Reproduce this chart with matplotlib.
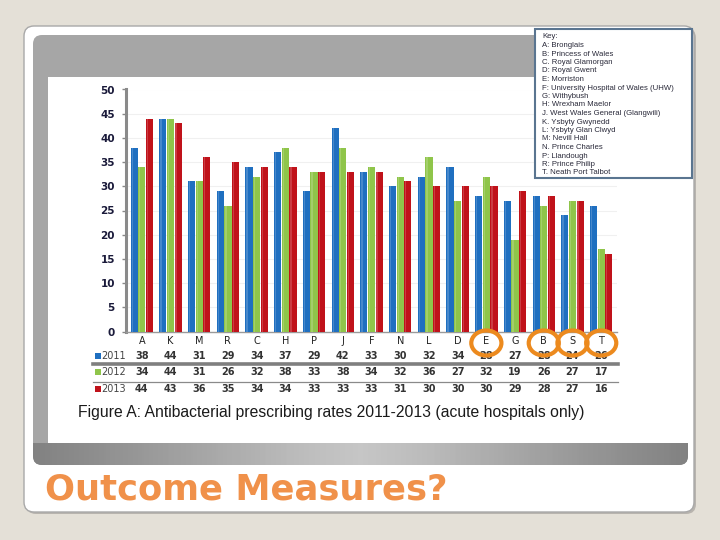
import numpy as np
import matplotlib
matplotlib.use("Agg")
import matplotlib.pyplot as plt
from matplotlib.patches import FancyBboxPatch, Rectangle, Ellipse
import matplotlib.transforms as mtransforms

# data
hospitals = ["A", "K", "M", "R", "C", "H", "P", "J", "F", "N", "L", "D", "E", "G", "B", "S", "T"]
rate_2011 = [38, 44, 31, 29, 34, 37, 29, 42, 33, 30, 32, 34, 28, 27, 28, 24, 26]
rate_2012 = [34, 44, 31, 26, 32, 38, 33, 38, 34, 32, 36, 27, 32, 19, 26, 27, 17]
rate_2013 = [44, 43, 36, 35, 34, 34, 33, 33, 33, 31, 30, 30, 30, 29, 28, 27, 16]
years = ["2011", "2012", "2013"]
circled = ["E", "B", "S", "T"]
key_lines = ["Key:", "A: Bronglais", "B: Princess of Wales", "C. Royal Glamorgan",
             "D: Royal Gwent", "E: Morriston", "F: University Hospital of Wales (UHW)",
             "G: Withybush", "H: Wrexham Maelor", "J. West Wales General (Glangwili)",
             "K. Ysbyty Gwynedd", "L: Ysbyty Glan Clwyd", "M: Nevill Hall",
             "N. Prince Charles", "P: Llandough", "R: Prince Philip", "T. Neath Port Talbot"]

colors = ["#1f6fc0", "#8fc54a", "#c0121a"]

W, H = 720, 540
fig = plt.figure(figsize=(7.2, 5.4), dpi=100)
fig.patch.set_facecolor("#e4e0d7")

# background layer in pixel coordinates
bg = fig.add_axes([0, 0, 1, 1])
bg.set_xlim(0, W)
bg.set_ylim(H, 0)
bg.axis("off")

# slide card
bg.add_patch(FancyBboxPatch((26, 28), 670, 486, boxstyle="round,pad=0,rounding_size=10",
                            fc="#b8b4ae", ec="none"))
bg.add_patch(FancyBboxPatch((24, 26), 670, 486, boxstyle="round,pad=0,rounding_size=10",
                            fc="white", ec="#a8a8a8", lw=1))
# gray picture frame
frame = FancyBboxPatch((33, 35), 655, 430, boxstyle="round,pad=0,rounding_size=9",
                       fc="#a6a6a6", ec="none")
bg.add_patch(frame)
# lighter gradient at the bottom of the frame
grad = np.abs(np.linspace(-1, 1, 256))[None, :]
im = bg.imshow(grad, extent=(33, 688, 465, 443), cmap="Greys", vmin=-1.4, vmax=2.8,
               aspect="auto", zorder=2)
im.set_clip_path(frame)
bg.add_patch(Rectangle((48, 77), 640, 366, fc="white", ec="none", zorder=3))

# caption and title
bg.text(78, 413, "Figure A: Antibacterial prescribing rates 2011-2013 (acute hospitals only)",
        fontsize=11.3, family="Liberation Sans", color="#1a1a1a", va="center", zorder=5)
bg.text(45, 490, "Outcome Measures?", fontsize=25.5, fontweight="bold", family="DejaVu Sans",
        color="#f0914a", va="center", zorder=5)

# chart
x0, x1, y0, y1 = 126, 617, 331.5, 89.5
ax = fig.add_axes([x0 / W, 1 - y0 / H, (x1 - x0) / W, (y0 - y1) / H])
ax.set_facecolor("none")
x = np.arange(len(hospitals))
bw = 0.25
for i, (vals, c) in enumerate(zip([rate_2011, rate_2012, rate_2013], colors)):
    ax.bar(x + (i - 1) * 0.265, vals, width=bw, color=c, zorder=3)
    ax.bar(x + (i - 1) * 0.265 - bw * 0.28, vals, width=bw * 0.18, color="white",
           alpha=0.18, zorder=4)
ax.set_xlim(-0.55, len(hospitals) - 0.45)
ax.set_ylim(0, 50)
ax.set_yticks(np.arange(0, 51, 5))
ax.tick_params(axis="y", length=3, width=1, color="#888888", pad=5, labelsize=7.5,
               labelcolor="#1a1a3a")
for lab in ax.get_yticklabels():
    lab.set_fontweight("bold")
ax.set_xticks([])
ax.grid(axis="y", color="#f0f0f0", lw=0.8, zorder=0)
for s in ["top", "right"]:
    ax.spines[s].set_visible(False)
ax.spines["left"].set_color("#8a8a8a")
ax.spines["left"].set_linewidth(2.2)
ax.spines["bottom"].set_color("#9a9a9a")
ax.spines["bottom"].set_linewidth(1)

# data table below the bars
trans = mtransforms.blended_transform_factory(ax.transData, ax.transAxes)
def ay(py):
    return (y0 - py) / (y0 - y1)

for xi, h in zip(x, hospitals):
    ax.text(xi, ay(341), h, transform=trans, ha="center", va="center", fontsize=7,
            color="#222222", clip_on=False)
row_y = [356, 372, 389]
for vals, py in zip([rate_2011, rate_2012, rate_2013], row_y):
    for xi, v in zip(x, vals):
        ax.text(xi, ay(py), str(v), transform=trans, ha="center", va="center",
                fontsize=7, color="#333333", fontweight="bold", clip_on=False)
for yr, c, py in zip(years, colors, row_y):
    bg.add_patch(Rectangle((95, py - 3.5), 6, 6, fc=c, ec="none", zorder=5))
    bg.text(101, py, yr, fontsize=7, color="#444444", va="center", zorder=5)
bg.plot([93, 618], [364, 364], color="#7f7f7f", lw=2.6, zorder=5)
bg.plot([93, 618], [381.5, 381.5], color="#8a8a8a", lw=0.9, zorder=5)

# orange circles over the label row
for h in circled:
    xi = hospitals.index(h)
    ax.add_patch(Ellipse((xi, ay(343)), 1.05, 25 / (y0 - y1), transform=trans,
                         fill=False, ec="#ec8a1e", lw=3, zorder=6, clip_on=False))

# key box on its own top layer
top = fig.add_axes([0, 0, 1, 1], zorder=10)
top.set_xlim(0, W)
top.set_ylim(H, 0)
top.axis("off")
top.patch.set_alpha(0)
top.add_patch(Rectangle((535, 29), 157, 149, fc="white", ec="#5a7590", lw=1.5))
for i, line in enumerate(key_lines):
    top.text(542, 37 + i * 8.5, line, fontsize=5.55, family="Liberation Sans",
             color="#2a2a3a", va="center")

fig.savefig("out.png", dpi=100, facecolor=fig.get_facecolor())
